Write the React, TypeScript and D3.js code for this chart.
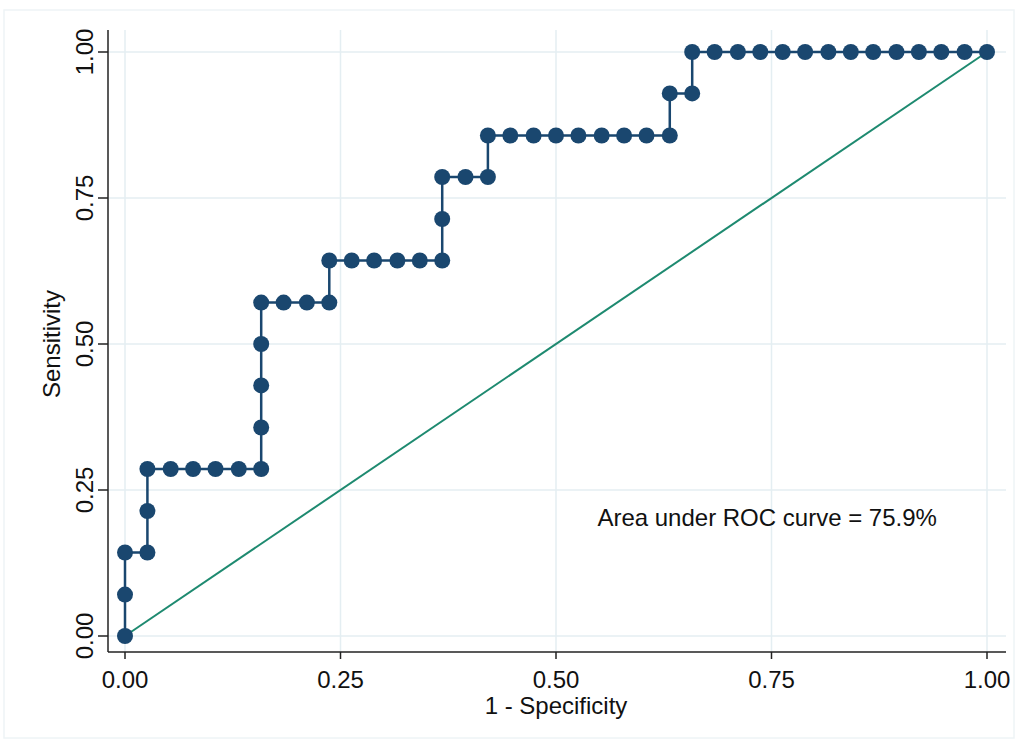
import { scaleLinear, line as d3_line } from "d3"

// 1 - specificity and sensitivity of each ROC point
const fpr = [
  0, 0, 0, 0.026, 0.026, 0.026, 0.053, 0.079, 0.105, 0.132, 0.158, 0.158, 0.158, 0.158, 0.158,
  0.184, 0.211, 0.237, 0.237, 0.263, 0.289, 0.316, 0.342, 0.368, 0.368, 0.368, 0.395, 0.421,
  0.421, 0.447, 0.474, 0.5, 0.526, 0.553, 0.579, 0.605, 0.632, 0.632, 0.658, 0.658, 0.684,
  0.711, 0.737, 0.763, 0.789, 0.816, 0.842, 0.868, 0.895, 0.921, 0.947, 0.974, 1,
]
const tpr = [
  0, 0.071, 0.143, 0.143, 0.214, 0.286, 0.286, 0.286, 0.286, 0.286, 0.286, 0.357, 0.429, 0.5,
  0.571, 0.571, 0.571, 0.571, 0.643, 0.643, 0.643, 0.643, 0.643, 0.643, 0.714, 0.786, 0.786,
  0.786, 0.857, 0.857, 0.857, 0.857, 0.857, 0.857, 0.857, 0.857, 0.857, 0.929, 0.929, 1, 1, 1,
  1, 1, 1, 1, 1, 1, 1, 1, 1, 1, 1,
]
const ticks = [0, 0.25, 0.5, 0.75, 1]
const tickLabels = ["0.00", "0.25", "0.50", "0.75", "1.00"]
const diagonal = [0, 1]
const aucText = "Area under ROC curve = 75.9%"

const W = 1018
const H = 749
const font = "'Liberation Sans', Arial, sans-serif"

export default function App() {
  let x = scaleLinear().domain([0, 1]).range([125, 987])
  let y = scaleLinear().domain([0, 1]).range([636, 52])

  let pts = fpr.map((f, i) => ({ f, t: tpr[i] }))
  let curve = d3_line<{ f: number; t: number }>()
    .x((d) => x(d.f))
    .y((d) => y(d.t))
  let diag = d3_line<number>()
    .x((d) => x(d))
    .y((d) => y(d))

  let axisY = 652
  let axisX = 108

  return (
    <div style={{ position: "absolute", left: 0, top: 0 }}>
      <svg width={W} height={H} style={{ display: "block", background: "#fff" }}>
        {/* faint outer frame */}
        <rect x={4} y={10} width={1010} height={728} fill="none" stroke="#eef4f6" strokeWidth={1.5} />

        {/* grid */}
        {ticks.map((t, i) => (
          <g key={i} stroke="#e4eef2" strokeWidth={1.5}>
            <line x1={axisX} x2={1006} y1={y(t)} y2={y(t)} />
            <line x1={x(t)} x2={x(t)} y1={30} y2={axisY} />
          </g>
        ))}

        {/* axes */}
        <line x1={axisX} x2={axisX} y1={30} y2={axisY} stroke="#222" strokeWidth={1.5} />
        <line x1={axisX} x2={1006} y1={axisY} y2={axisY} stroke="#222" strokeWidth={1.5} />

        {ticks.map((t, i) => (
          <g key={i} fontFamily={font} fontSize={24} fill="#111">
            <line x1={x(t)} x2={x(t)} y1={axisY} y2={axisY + 7} stroke="#222" strokeWidth={1.5} />
            <text x={x(t)} y={688} textAnchor="middle">
              {tickLabels[i]}
            </text>
            <line x1={axisX - 10} x2={axisX} y1={y(t)} y2={y(t)} stroke="#222" strokeWidth={1.5} />
            <text transform={`translate(93,${y(t)}) rotate(-90)`} textAnchor="middle">
              {tickLabels[i]}
            </text>
          </g>
        ))}

        <text x={556} y={714} textAnchor="middle" fontFamily={font} fontSize={24} fill="#111">
          1 - Specificity
        </text>
        <text
          transform={`translate(60,344) rotate(-90)`}
          textAnchor="middle"
          fontFamily={font}
          fontSize={24}
          fill="#111"
        >
          Sensitivity
        </text>

        {/* reference diagonal */}
        <path d={diag(diagonal) ?? ""} fill="none" stroke="#1e8a70" strokeWidth={2} />

        {/* ROC curve */}
        <path d={curve(pts) ?? ""} fill="none" stroke="#1a476f" strokeWidth={2.5} />
        {pts.map((d, i) => (
          <circle key={i} cx={x(d.f)} cy={y(d.t)} r={8} fill="#1a476f" />
        ))}

        <text x={x(0.548)} y={526} fontFamily={font} fontSize={24} fill="#111">
          {aucText}
        </text>
      </svg>
    </div>
  )
}
